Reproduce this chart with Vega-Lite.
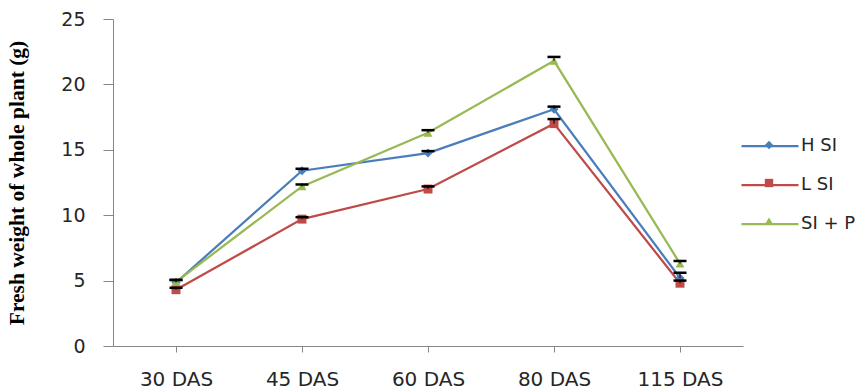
{
  "$schema": "https://vega.github.io/schema/vega-lite/v6.json",
  "width": 630,
  "height": 327,
  "autosize": {"type": "none"},
  "padding": {"left": 113, "top": 19, "right": 119, "bottom": 46},
  "background": "white",
  "config": {
    "view": {"stroke": null},
    "axis": {"grid": false, "domainColor": "#868686", "tickColor": "#868686", "labelColor": "#262626", "labelFont": "DejaVu Sans"}
  },
  "data": {
    "values": [
      {"day": "30 DAS", "series": "H SI", "value": 4.85, "upper": 5.05},
      {"day": "45 DAS", "series": "H SI", "value": 13.4, "upper": 13.55},
      {"day": "60 DAS", "series": "H SI", "value": 14.75, "upper": 14.9},
      {"day": "80 DAS", "series": "H SI", "value": 18.1, "upper": 18.3},
      {"day": "115 DAS", "series": "H SI", "value": 5.2, "upper": 5.6},
      {"day": "30 DAS", "series": "L SI", "value": 4.3, "upper": 4.45},
      {"day": "45 DAS", "series": "L SI", "value": 9.7, "upper": 9.85},
      {"day": "60 DAS", "series": "L SI", "value": 12.0, "upper": 12.2},
      {"day": "80 DAS", "series": "L SI", "value": 17.0, "upper": 17.35},
      {"day": "115 DAS", "series": "L SI", "value": 4.8, "upper": 5.0},
      {"day": "30 DAS", "series": "SI + P", "value": 4.9, "upper": 5.05},
      {"day": "45 DAS", "series": "SI + P", "value": 12.2, "upper": 12.35},
      {"day": "60 DAS", "series": "SI + P", "value": 16.3, "upper": 16.5},
      {"day": "80 DAS", "series": "SI + P", "value": 21.8, "upper": 22.1},
      {"day": "115 DAS", "series": "SI + P", "value": 6.3, "upper": 6.5}
    ]
  },
  "encoding": {
    "x": {
      "field": "day", "type": "ordinal",
      "sort": ["30 DAS", "45 DAS", "60 DAS", "80 DAS", "115 DAS"],
      "scale": {"type": "point", "padding": 0.5},
      "axis": {"title": null, "labelAngle": 0, "labelFontSize": 20, "tickSize": 6, "labelPadding": 17, "domainWidth": 1}
    },
    "y": {
      "field": "value", "type": "quantitative",
      "scale": {"domain": [0, 25], "nice": false},
      "axis": {
        "values": [0, 5, 10, 15, 20, 25], "labelFontSize": 19, "tickSize": 10, "labelPadding": 18,
        "title": "Fresh weight of whole plant (g)", "titleFont": "Liberation Serif", "titleFontWeight": "bold",
        "titleFontSize": 21.5, "titleColor": "black", "titleX": -85
      }
    }
  },
  "layer": [
    {
      "mark": {"type": "line", "strokeWidth": 2.25},
      "encoding": {
        "color": {
          "field": "series", "type": "nominal",
          "scale": {"domain": ["SI + P", "L SI", "H SI"], "range": ["#98B954", "#BE4B48", "#4A7EBB"]},
          "legend": {
            "title": null, "orient": "none", "legendX": 627, "legendY": 97, "padding": 0, "rowPadding": -0.5,
            "values": ["H SI", "L SI", "SI + P"],
            "symbolType": "stroke", "symbolSize": 3249, "symbolStrokeWidth": 2.25,
            "labelFontSize": 18, "labelFont": "DejaVu Sans", "labelColor": "#262626", "labelOffset": 1
          }
        }
      }
    },
    {
      "mark": {"type": "point", "filled": true, "opacity": 1, "size": 80, "strokeWidth": 0},
      "encoding": {
        "fill": {
          "field": "series", "type": "nominal",
          "scale": {"domain": ["H SI", "L SI", "SI + P"], "range": ["#4A7EBB", "#BE4B48", "#98B954"]},
          "legend": {
            "title": null, "orient": "none", "legendX": 647, "legendY": 117, "padding": 0, "rowPadding": 20,
            "symbolSize": 70, "labelExpr": "''", "labelOpacity": 0, "labelFontSize": 18, "symbolOpacity": 1, "symbolStrokeWidth": 0
          }
        },
        "shape": {
          "field": "series", "type": "nominal",
          "scale": {"domain": ["H SI", "L SI", "SI + P"], "range": ["diamond", "square", "triangle-up"]},
          "legend": {
            "title": null, "orient": "none", "legendX": 647, "legendY": 117, "padding": 0, "rowPadding": 20,
            "symbolSize": 70, "labelExpr": "''", "labelOpacity": 0, "labelFontSize": 18, "symbolOpacity": 1, "symbolStrokeWidth": 0
          }
        }
      }
    },
    {
      "mark": {"type": "rule", "color": "black", "strokeWidth": 1},
      "encoding": {"y2": {"field": "upper"}}
    },
    {
      "mark": {"type": "tick", "color": "black", "size": 13, "thickness": 2.5, "opacity": 1},
      "encoding": {"y": {"field": "upper", "type": "quantitative"}}
    }
  ]
}
